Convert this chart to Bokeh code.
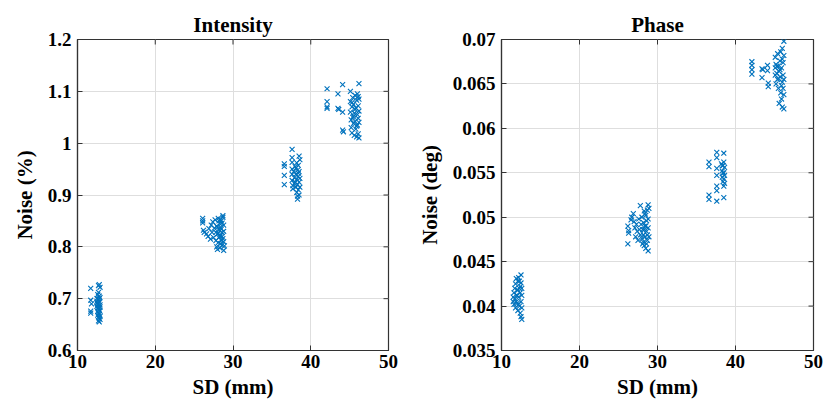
import math
from bokeh.plotting import figure
from bokeh.layouts import row
from bokeh.models import FixedTicker, Range1d, NumeralTickFormatter
from bokeh.embed import file_html
from bokeh.resources import INLINE

# ---- data (SD mm, noise) ----
int_c1 = [(11.7,0.720),(11.7,0.697),(11.7,0.676),(11.8,0.690),(11.7,0.672),(12.8,0.727),(12.9,0.722),(12.7,0.725),
          (12.5,0.700),(12.6,0.708),(12.7,0.712),(12.8,0.705),(12.9,0.702),(12.5,0.695),(12.6,0.690),(12.7,0.698),
          (12.8,0.694),(12.9,0.688),(12.5,0.685),(12.6,0.682),(12.7,0.680),(12.8,0.678),(12.9,0.684),(12.6,0.675),
          (12.7,0.672),(12.8,0.670),(12.9,0.676),(12.5,0.692),(12.6,0.668),(12.7,0.665),(12.8,0.662),(12.9,0.660),
          (12.7,0.657),(12.8,0.655),(12.6,0.688),(12.9,0.666),(12.8,0.700),(12.7,0.683)]
int_c2 = [(26.1,0.855),(26.1,0.850),(26.1,0.846),(26.2,0.832),(26.3,0.828),(26.6,0.825),(26.8,0.820),(26.9,0.835),
          (27.1,0.815),(27.2,0.842),(27.3,0.828),(27.4,0.848),(27.5,0.818),(27.6,0.836),(27.7,0.852),(27.8,0.812),
          (27.9,0.840),(27.9,0.800),(28.0,0.825),(28.0,0.795),(28.1,0.855),(28.1,0.808),(28.2,0.832),(28.2,0.818),
          (28.3,0.845),(28.3,0.798),(28.4,0.838),(28.4,0.822),(28.5,0.812),(28.5,0.850),(28.6,0.828),(28.6,0.803),
          (28.7,0.857),(28.7,0.816),(28.8,0.842),(28.8,0.793),(28.8,0.830),(28.7,0.860),(28.6,0.846),(28.5,0.834),
          (28.4,0.806),(28.3,0.820),(28.2,0.850),(28.1,0.826),(28.0,0.838),(28.8,0.810),(28.6,0.820),(28.4,0.853),
          (27.8,0.828),(28.9,0.802)]
int_c3 = [(36.6,0.960),(36.6,0.955),(36.6,0.938),(36.6,0.920),(37.6,0.988),(37.6,0.972),(37.6,0.963),(37.6,0.950),
          (37.6,0.940),(37.6,0.928),(37.7,0.918),(37.7,0.912),(37.8,0.945),(37.9,0.933),(38.0,0.925),(38.0,0.955),
          (38.1,0.915),(38.1,0.940),(38.2,0.905),(38.2,0.930),(38.2,0.962),(38.3,0.948),(38.3,0.920),(38.3,0.892),
          (38.4,0.936),(38.4,0.910),(38.4,0.957),(38.5,0.975),(38.5,0.925),(38.5,0.900),(38.5,0.945),(38.6,0.968),
          (38.6,0.932),(38.6,0.915),(38.3,0.898),(38.1,0.952),(37.9,0.922),(38.4,0.942)]
int_c4 = [(42.1,1.105),(42.1,1.080),(42.1,1.070),(42.1,1.067),(43.5,1.095),(43.5,1.067),(43.6,1.065),(44.1,1.113),
          (44.1,1.060),(44.1,1.025),(44.2,1.022),(45.1,1.100),(45.1,1.080),(45.1,1.060),(45.2,1.045),(45.2,1.030),
          (45.3,1.070),(45.3,1.020),(45.4,1.088),(45.4,1.050),(45.5,1.038),(45.5,1.075),(45.6,1.015),(45.6,1.058),
          (45.7,1.092),(45.7,1.042),(45.8,1.068),(45.8,1.027),(45.9,1.083),(45.9,1.012),(46.0,1.055),(46.0,1.035),
          (46.0,1.095),(46.1,1.072),(46.1,1.048),(46.1,1.018),(46.2,1.115),(46.2,1.062),(46.2,1.040),(46.2,1.085),
          (46.2,1.010),(45.7,1.065),(45.5,1.052),(45.9,1.033),(46.1,1.090),(45.3,1.078)]

ph_c1 = [(11.5,0.0405),(11.5,0.0410),(11.6,0.0415),(11.6,0.0402),(11.7,0.0420),(11.7,0.0408),(11.8,0.0398),(11.8,0.0425),
         (11.9,0.0412),(11.9,0.0431),(12.0,0.0403),(12.0,0.0418),(12.1,0.0395),(12.1,0.0428),(12.2,0.0410),(12.2,0.0432),
         (12.3,0.0400),(12.3,0.0420),(12.4,0.0392),(12.4,0.0415),(12.5,0.0435),(12.5,0.0426),(12.5,0.0405),(12.5,0.0388),
         (12.6,0.0385),(12.6,0.0412),(12.6,0.0398),(12.4,0.0422),(12.2,0.0402),(12.0,0.0412),(11.9,0.0405),(12.3,0.0428),
         (12.1,0.0418),(12.6,0.0420)]
ph_c2 = [(26.2,0.0470),(26.2,0.0490),(26.3,0.0485),(26.3,0.0482),(26.6,0.0497),(26.7,0.0500),(26.9,0.0504),(27.0,0.0495),
         (27.1,0.0488),(27.2,0.0478),(27.3,0.0492),(27.4,0.0484),(27.5,0.0474),(27.6,0.0498),(27.7,0.0486),(27.8,0.0513),
         (27.8,0.0480),(27.9,0.0492),(28.0,0.0476),(28.0,0.0500),(28.1,0.0486),(28.1,0.0470),(28.2,0.0494),(28.2,0.0480),
         (28.3,0.0507),(28.3,0.0468),(28.4,0.0490),(28.4,0.0478),(28.5,0.0502),(28.5,0.0465),(28.6,0.0484),(28.6,0.0496),
         (28.7,0.0474),(28.7,0.0508),(28.8,0.0514),(28.8,0.0488),(28.8,0.0462),(28.8,0.0498),(28.7,0.0480),(28.6,0.0470),
         (28.5,0.0490),(28.4,0.0504),(28.3,0.0486),(28.2,0.0472),(28.9,0.0510),(28.9,0.0478)]
ph_c3 = [(36.6,0.0562),(36.6,0.0557),(36.6,0.0525),(36.6,0.0520),(37.6,0.0573),(37.6,0.0567),(37.6,0.0555),(37.6,0.0547),
         (37.6,0.0535),(37.6,0.0530),(37.6,0.0518),(38.2,0.0560),(38.3,0.0552),(38.3,0.0545),(38.4,0.0558),(38.4,0.0540),
         (38.5,0.0572),(38.5,0.0562),(38.5,0.0550),(38.5,0.0543),(38.5,0.0535),(38.5,0.0522),(38.6,0.0556),(38.6,0.0547),
         (38.6,0.0538),(38.4,0.0550),(38.3,0.0558)]
ph_c4 = [(42.1,0.0675),(42.1,0.0671),(42.1,0.0666),(42.1,0.0661),(43.4,0.0667),(43.5,0.0666),(43.4,0.0657),(44.1,0.0671),
         (44.1,0.0665),(44.2,0.0651),(44.2,0.0647),(45.1,0.0680),(45.1,0.0668),(45.1,0.0660),(45.2,0.0672),(45.2,0.0650),
         (45.3,0.0662),(45.4,0.0684),(45.4,0.0655),(45.5,0.0670),(45.5,0.0645),(45.6,0.0664),(45.6,0.0628),(45.7,0.0676),
         (45.7,0.0658),(45.8,0.0640),(45.8,0.0686),(45.9,0.0668),(45.9,0.0633),(46.0,0.0652),(46.0,0.0690),(46.0,0.0624),
         (46.1,0.0674),(46.1,0.0645),(46.1,0.0660),(46.2,0.0698),(46.2,0.0682),(46.2,0.0622),(46.2,0.0655),(46.2,0.0638),
         (45.9,0.0648),(45.7,0.0666),(45.5,0.0656),(46.0,0.0678),(45.3,0.0670)]

x_ticks = [10, 20, 30, 40, 50]
int_ticks = [0.6, 0.7, 0.8, 0.9, 1.0, 1.1, 1.2]
ph_ticks = [0.035, 0.04, 0.045, 0.05, 0.055, 0.06, 0.065, 0.07]

FONT = "Liberation Serif"
AX = "#333333"
GRID = "#dedede"
BLUE = "#0072BD"


def make(title, ylabel, clusters, yticks, yfmt, width, bl, br):
    x0, x1 = x_ticks[0], x_ticks[-1]
    y0, y1 = yticks[0], yticks[-1]
    p = figure(width=width, height=407, output_backend="svg", toolbar_location=None,
               x_range=Range1d(x0, x1), y_range=Range1d(y0, y1),
               min_border_left=bl, min_border_right=br, min_border_top=39, min_border_bottom=57,
               x_axis_label="SD (mm)", y_axis_label=ylabel)
    p.outline_line_color = AX
    p.outline_line_width = 1.2
    p.background_fill_color = "white"
    p.border_fill_color = "white"
    p.title.text = title
    p.title.align = "center"
    p.title.vertical_align = "top"
    p.title.text_font = FONT
    p.title.text_font_size = "21px"
    p.title.text_font_style = "bold"
    p.title.text_color = "black"
    p.title.text_line_height = 0.9
    p.title.standoff = 2

    p.xaxis.ticker = FixedTicker(ticks=x_ticks)
    p.yaxis.ticker = FixedTicker(ticks=yticks)
    p.yaxis.formatter = NumeralTickFormatter(format=yfmt)
    for ax in p.axis:
        ax.axis_line_color = AX
        ax.axis_line_width = 1.2
        ax.major_tick_line_color = AX
        ax.major_tick_in = 5
        ax.major_tick_out = 0
        ax.minor_tick_line_color = None
        ax.major_label_text_font = FONT
        ax.major_label_text_font_style = "bold"
        ax.major_label_text_font_size = "19px"
        ax.major_label_text_color = "black"
        ax.axis_label_text_font = FONT
        ax.axis_label_text_font_style = "bold"
        ax.axis_label_text_font_size = "21px"
        ax.axis_label_text_color = "black"
    p.xaxis.major_label_standoff = 4
    p.xaxis.axis_label_standoff = 4
    p.yaxis.major_label_standoff = 6
    p.yaxis.axis_label_standoff = 8

    p.xgrid.ticker = FixedTicker(ticks=x_ticks)
    p.ygrid.ticker = FixedTicker(ticks=yticks)
    p.grid.grid_line_color = GRID
    p.grid.grid_line_width = 1

    # inward ticks on the top and right edges of the box (clipped to the frame)
    p.scatter(x_ticks, [y1] * len(x_ticks), marker="dash", size=10, angle=math.pi / 2,
              line_color=AX, line_width=1)
    p.scatter([x1] * len(yticks), yticks, marker="dash", size=10,
              line_color=AX, line_width=1)

    xs = [pt[0] for c in clusters for pt in c]
    ys = [pt[1] for c in clusters for pt in c]
    p.scatter(xs, ys, marker="x", size=7, line_color=BLUE, line_width=1.1)
    return p


p1 = make("Intensity", "Noise (%)", [int_c1, int_c2, int_c3, int_c4], int_ticks, "0.[0]", 410, 77, 22)
p2 = make("Phase", "Noise (deg)", [ph_c1, ph_c2, ph_c3, ph_c4], ph_ticks, "0.[000]", 417, 91, 14)

lay = row(p1, p2, spacing=0)
open("out.html", "w").write(file_html(lay, INLINE))
